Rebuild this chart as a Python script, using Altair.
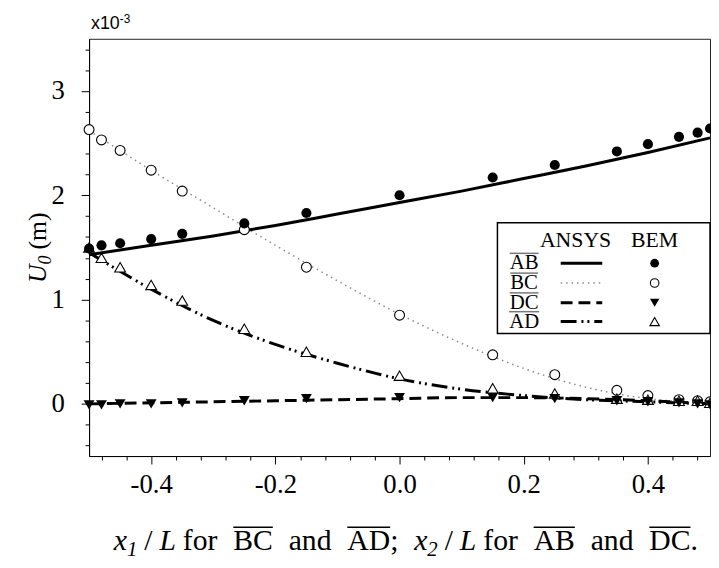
import altair as alt
import pandas as pd

# ---------------- data ----------------
x_bem = [-0.5, -0.48, -0.45, -0.4, -0.35, -0.25, -0.15, 0.0, 0.15, 0.25, 0.35, 0.4, 0.45, 0.48, 0.5]
ab_bem = [1.49, 1.52, 1.54, 1.58, 1.63, 1.73, 1.83, 2.0, 2.17, 2.29, 2.42, 2.49, 2.56, 2.6, 2.64]
bc_bem = [2.63, 2.53, 2.43, 2.24, 2.04, 1.67, 1.31, 0.85, 0.47, 0.28, 0.13, 0.08, 0.04, 0.03, 0.02]
dc_bem = [-0.01, -0.01, 0.0, 0.0, 0.01, 0.03, 0.05, 0.06, 0.06, 0.05, 0.03, 0.02, 0.01, 0.0, -0.01]
ad_bem = [1.5, 1.4, 1.31, 1.14, 0.99, 0.72, 0.5, 0.27, 0.15, 0.1, 0.05, 0.04, 0.03, 0.03, 0.01]

x_ansys = [-0.5, -0.4, -0.3, -0.2, -0.1, 0.0, 0.1, 0.2, 0.3, 0.4, 0.5]
ab_ansys = [1.43, 1.52, 1.61, 1.71, 1.82, 1.93, 2.04, 2.16, 2.28, 2.41, 2.55]
bc_ansys = [2.62, 2.24, 1.88, 1.52, 1.18, 0.86, 0.58, 0.34, 0.16, 0.05, 0.01]
dc_ansys = [0.0, 0.01, 0.02, 0.03, 0.04, 0.05, 0.06, 0.06, 0.05, 0.03, 0.0]
ad_ansys = [1.45, 1.1, 0.8, 0.57, 0.39, 0.24, 0.14, 0.08, 0.04, 0.02, 0.0]

series_names = ["AB", "BC", "DC", "AD"]
legend_header = ["ANSYS", "BEM"]
x_tick_values = [round(-0.48 + 0.04 * i, 2) for i in range(25)]
y_tick_values = [round(-0.4 + 0.2 * i, 1) for i in range(20)]

# ---------------- styles ----------------
SERIF = "Liberation Serif"
SANS = "Liberation Sans"
W, H = 628, 422
FS = 27

line_styles = {
    "AB": dict(color="black", strokeWidth=3),
    "BC": dict(color="#8a8a8a", strokeWidth=1.5, strokeDash=[1.5, 4]),
    "DC": dict(color="black", strokeWidth=3, strokeDash=[12, 6]),
    "AD": dict(color="black", strokeWidth=3, strokeDash=[16, 5, 2, 4, 2, 5]),
}
point_styles = {
    "AB": dict(shape="circle", filled=True, fill="black", color="black", size=105, opacity=1),
    "BC": dict(shape="circle", filled=True, fill="white", stroke="black", strokeWidth=1.1, size=100, opacity=1),
    "DC": dict(shape="triangle-down", filled=True, fill="black", color="black", size=120, opacity=1),
    "AD": dict(shape="triangle-up", filled=True, fill="white", stroke="black", strokeWidth=1.1, size=120, opacity=1),
}

xs = alt.Scale(domain=[-0.5, 0.5], nice=False, zero=False)
ys = alt.Scale(domain=[-0.5, 3.5], nice=False, zero=False)

x_major = "abs(datum.value*5 - round(datum.value*5)) < 1e-6"
y_major = "abs(datum.value - round(datum.value)) < 1e-6"

xaxis = alt.Axis(
    values=x_tick_values, format=".1f",
    labelExpr=f"{x_major} ? replace(datum.label, '\u2212', '-') : ''",
    tickSize={"condition": {"test": x_major, "value": 8}, "value": 4},
    labelFont=SERIF, labelFontSize=FS, labelColor="black", labelPadding=8,
    domainColor="black", tickColor="black", grid=False, title=None, labelFlush=False,
)
yaxis = alt.Axis(
    values=y_tick_values, format=".0f",
    labelExpr=f"{y_major} ? replace(datum.label, '\u2212', '-') : ''",
    tickSize={"condition": {"test": y_major, "value": 8}, "value": 4},
    labelFont=SERIF, labelFontSize=FS, labelColor="black", labelPadding=17,
    domainColor="black", tickColor="black", grid=False, title=None, labelFlush=False,
)

ansys = {"AB": ab_ansys, "BC": bc_ansys, "DC": dc_ansys, "AD": ad_ansys}
bem = {"AB": ab_bem, "BC": bc_bem, "DC": dc_bem, "AD": ad_bem}

layers = []
for name in ["BC", "AD", "DC", "AB"]:
    df = pd.DataFrame({"x": x_ansys, "y": ansys[name]})
    layers.append(
        alt.Chart(df).mark_line(interpolate="monotone", clip=False, **line_styles[name]).encode(
            x=alt.X("x:Q", scale=xs, axis=xaxis), y=alt.Y("y:Q", scale=ys, axis=yaxis)
        )
    )
for name in ["BC", "AD", "DC", "AB"]:
    df = pd.DataFrame({"x": x_bem, "y": bem[name]})
    layers.append(
        alt.Chart(df).mark_point(**point_styles[name]).encode(
            x=alt.X("x:Q", scale=xs, axis=xaxis), y=alt.Y("y:Q", scale=ys, axis=yaxis)
        )
    )

dummy = pd.DataFrame({"a": [0]})


def txt(s, x, y, size=FS, font=SERIF, style="normal", align="left", angle=0, color="black"):
    return alt.Chart(dummy).mark_text(
        text=s, font=font, fontSize=size, fontStyle=style, align=align,
        baseline="alphabetic", angle=angle, color=color,
    ).encode(x=alt.value(x), y=alt.value(y))


def rule(x1, x2, y1, color="black", width=1.2):
    return alt.Chart(dummy).mark_rule(color=color, strokeWidth=width).encode(
        x=alt.value(x1), x2=alt.value(x2), y=alt.value(y1)
    )


# Times (Liberation Serif) advance widths, per 1000 em
REG = {" ": 250, "/": 278, "f": 333, "o": 500, "r": 333, "a": 444, "n": 500, "d": 500,
       ";": 278, ".": 250, "A": 722, "B": 667, "C": 667, "D": 722, "(": 333, ")": 333, "m": 778,
       "S": 556, "Y": 722, "N": 722, "E": 611, "M": 889}
ITA = {"x": 444, "L": 556, "U": 722, "0": 500, "1": 500, "2": 500}


def width(s, size, italic=False):
    tbl = ITA if italic else REG
    return sum(tbl.get(c, 500) for c in s) * size / 1000.0


# ---------------- x-axis title (composed) ----------------
TF = 30
tx0, tby = 25, 517
sub = 21
sg, lg = 7, 16
pieces = [
    ("x", "italic", TF, 0, False, 0), ("1", "italic", sub, 6, False, 0),
    ("/", "normal", TF, 0, False, sg), ("L", "italic", TF, 0, False, sg),
    ("for", "normal", TF, 0, False, sg), ("BC", "normal", TF, 0, True, lg),
    ("and", "normal", TF, 0, False, lg), ("AD", "normal", TF, 0, True, lg),
    (";", "normal", TF, 0, False, 0),
    ("x", "italic", TF, 0, False, lg), ("2", "italic", sub, 6, False, 0),
    ("/", "normal", TF, 0, False, sg), ("L", "italic", TF, 0, False, sg),
    ("for", "normal", TF, 0, False, sg), ("AB", "normal", TF, 0, True, lg),
    ("and", "normal", TF, 0, False, lg), ("DC", "normal", TF, 0, True, lg),
    (".", "normal", TF, 0, False, 0),
]
cx = tx0
for s, st, sz, dy, ov, gap in pieces:
    cx += gap
    layers.append(txt(s, cx, tby + dy, size=sz, style=st))
    w = width(s, sz, st == "italic")
    if ov:
        layers.append(rule(cx, cx + w, tby - 23, width=1.4))
    cx += w

# ---------------- y-axis title (rotated, composed) ----------------
YF = 26
yx, yy = -44, 247
layers.append(txt("U", yx, yy, size=YF, style="italic", angle=270))
yy -= width("U", YF, True)
layers.append(txt("0", yx + 5, yy, size=18, style="italic", angle=270))
yy -= width("0", 18, True) + 6
layers.append(txt("(m)", yx, yy, size=YF, angle=270))

# ---------------- x10^-3 ----------------
layers.append(txt("x10", 2, -10, size=18, font=SANS))
layers.append(txt("-3", 2 + 18 * 1.612, -16, size=12, font=SANS))

# ---------------- legend ----------------
bx1, bx2, by1, by2 = 413, 628, 186, 298
layers.append(
    alt.Chart(dummy).mark_rect(fill="white", stroke="black", strokeWidth=1.5).encode(
        x=alt.value(bx1), x2=alt.value(bx2), y=alt.value(by1), y2=alt.value(by2)
    )
)
LFS = 21
line_cx, mark_cx, lab_cx = 498, 572, 440
layers.append(txt(legend_header[0], line_cx - 6, 211, size=22, align="center"))
layers.append(txt(legend_header[1], mark_cx, 211, size=22, align="center"))
row_base = [233, 253, 273, 292]
for name, yb in zip(series_names, row_base):
    layers.append(txt(name, lab_cx, yb, size=LFS, align="center"))
    w = width(name, LFS)
    layers.append(rule(lab_cx - w / 2, lab_cx + w / 2, yb - 16, color="#777", width=1.5))
    ls = dict(line_styles[name])
    layers.append(
        alt.Chart(dummy).mark_rule(**ls).encode(
            x=alt.value(line_cx - 21), x2=alt.value(line_cx + 21), y=alt.value(yb - 6)
        )
    )
    ps = dict(point_styles[name])
    ps["size"] = ps["size"] * 0.75
    layers.append(
        alt.Chart(dummy).mark_point(**ps).encode(x=alt.value(mark_cx), y=alt.value(yb - 6))
    )

chart = (
    alt.layer(*layers)
    .properties(
        width=W, height=H,
        padding={"left": 82, "top": 28, "right": 1, "bottom": 102},
        autosize=alt.AutoSizeParams(type="none"),
        background="white",
    )
    .configure_view(stroke="#222", strokeWidth=1)
)

chart.save("out.html", embed_options={"renderer": "svg", "actions": False})
